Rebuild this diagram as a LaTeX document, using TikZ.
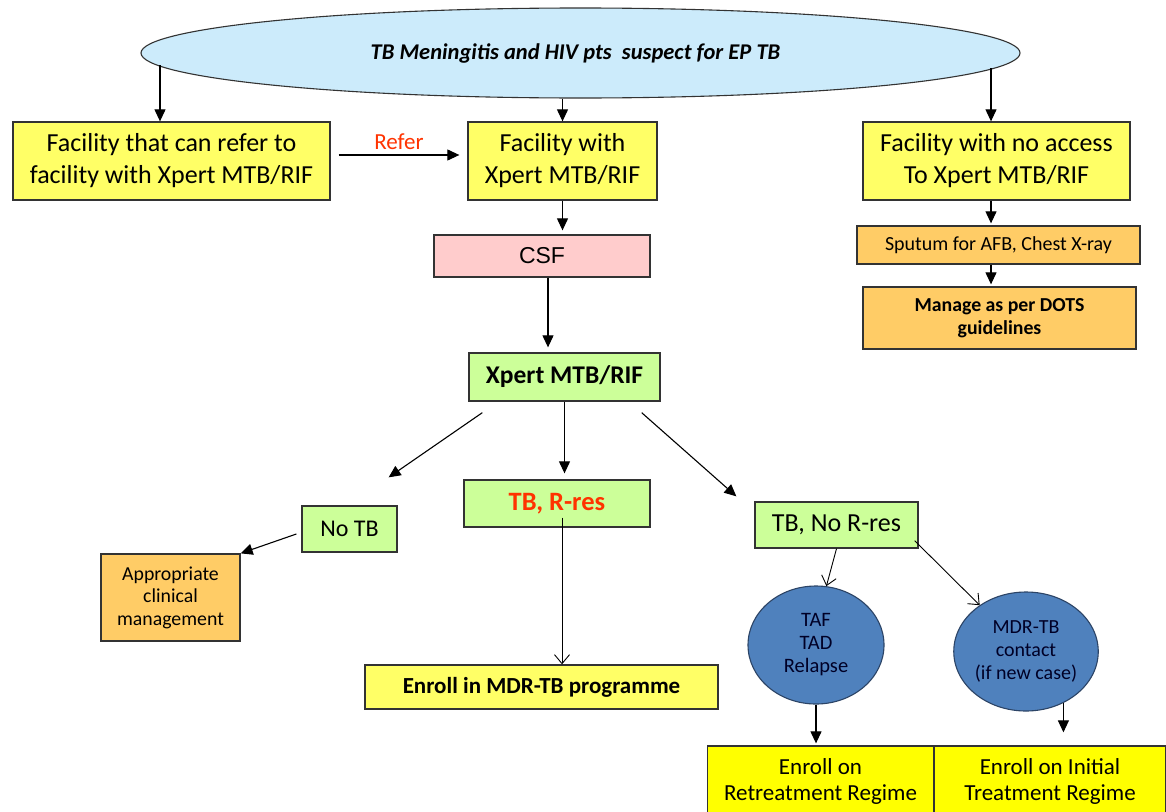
\documentclass[tikz,border=0pt]{standalone}
\usepackage{fontspec}
\setmainfont{Carlito}
\newfontfamily\arialf{Liberation Sans}
\usetikzlibrary{shapes.geometric,arrows.meta}
\definecolor{ylw}{HTML}{FFFF66}
\definecolor{ylwb}{HTML}{FFFF00}
\definecolor{lblue}{HTML}{CCEBFB}
\definecolor{pinkc}{HTML}{FFCCCC}
\definecolor{grn}{HTML}{CCFF99}
\definecolor{org}{HTML}{FFCC66}
\definecolor{cblue}{HTML}{4F81BD}
\definecolor{cbdr}{HTML}{2C4466}
\definecolor{bdr}{HTML}{333333}
\definecolor{redt}{HTML}{FF3300}
\begin{document}
\begin{tikzpicture}[x=1pt,y=-1pt,
  box/.style={draw=bdr,line width=1.3pt,align=center,inner sep=0pt},
  ell/.style={ellipse,draw=bdr,line width=1.1pt,align=center,inner sep=0pt},
  arr/.style={-{Triangle[length=12pt,width=11pt]},line width=1.1pt},
  oarr/.style={-{Straight Barb[length=9pt,width=15pt]},line width=0.9pt},
  big/.style={font={\fontsize{26}{32}\selectfont}}]
\useasboundingbox (0,0) rectangle (1166,811);
\fill[white] (0,0) rectangle (1166,811);

% top ellipse
\node[ell,fill=lblue,minimum width=879pt,minimum height=90pt,font={\fontsize{22.5}{26}\selectfont\bfseries\itshape}] (e) at (580.5,53) {TB Meningitis and HIV pts\ \ suspect for EP TB\hspace*{10pt}};

% first row
\node[box,big,fill=ylw,minimum width=317pt,minimum height=78pt] (A) at (171.5,161) {Facility that can refer to\\facility with Xpert MTB/RIF};
\node[box,big,fill=ylw,minimum width=189pt,minimum height=78pt] (B) at (562.5,161) {Facility with\\Xpert MTB/RIF};
\node[box,big,fill=ylw,minimum width=267pt,minimum height=78pt] (C) at (996.5,161) {Facility with no access\\To Xpert MTB/RIF};

% middle column
\node[box,fill=pinkc,minimum width=216pt,minimum height=42pt,font={\arialf\fontsize{23}{27}\selectfont}] (CSF) at (542,256) {CSF};
\node[box,fill=grn,minimum width=191pt,minimum height=48pt,font={\fontsize{25.5}{30}\selectfont\bfseries}] (X) at (564.5,377) {Xpert MTB/RIF};

% right column
\node[box,fill=org,minimum width=283pt,minimum height=38pt,font={\fontsize{20}{24}\selectfont}] (Sp) at (998.5,245) {Sputum for AFB, Chest X-ray};
\node[box,fill=org,minimum width=273pt,minimum height=62pt,font={\fontsize{19.8}{23.5}\selectfont\bfseries}] (Mg) at (999.5,318) {Manage as per DOTS\\guidelines};

% results
\node[box,fill=grn,minimum width=186pt,minimum height=47pt,font={\fontsize{26.5}{30}\selectfont\bfseries},text=redt] (TBR) at (557,503.5) {TB, R-res};
\node[box,fill=grn,minimum width=95pt,minimum height=46pt,font={\fontsize{24}{28}\selectfont}] (NoTB) at (349.5,529) {No TB};
\node[box,fill=org,minimum width=139pt,minimum height=87pt,font={\fontsize{19.8}{22.5}\selectfont}] (Ap) at (170.5,597.5) {Appropriate\\clinical\\management};
\node[box,fill=ylw,minimum width=353pt,minimum height=44pt,font={\fontsize{23}{27}\selectfont\bfseries}] (En) at (541.5,687) {Enroll in MDR-TB programme};
\node[box,big,fill=grn,minimum width=163pt,minimum height=46pt] (TBN) at (836.5,525) {TB, No R-res};

% circles
\node[ell,draw=cbdr,fill=cblue,minimum width=136pt,minimum height=118pt,font={\fontsize{20.5}{23}\selectfont},text=black!85!blue] (C1) at (816,645) {TAF\\TAD\\Relapse};
\node[ell,draw=cbdr,fill=cblue,minimum width=127pt,minimum height=119pt,font={\fontsize{20}{23}\selectfont},text=black!85!blue] (C2) at (1026,651.5) {MDR-TB\\contact\\(if new case)};

% bottom boxes
\node[box,fill=ylwb,minimum width=226pt,minimum height=70pt,font={\fontsize{23}{26}\selectfont}] (Ret) at (820.5,781) {Enroll on\\Retreatment Regime};
\node[box,fill=ylwb,minimum width=232pt,minimum height=70pt,font={\fontsize{23}{26}\selectfont}] (Ini) at (1050,781) {Enroll on Initial\\Treatment Regime};

% connectors
\draw[arr] ([shift={(-11.5,-56)}]A.north) -- ([xshift=-11.5pt]A.north);
\draw[arr] (B.north |- e.south) -- (B.north);
\draw[arr] ([shift={(-5.5,-53)}]C.north) -- ([xshift=-5.5pt]C.north);
\draw[arr] ([shift={(8,-6)}]A.east) -- node[above=1pt,text=redt,font={\fontsize{23}{26}\selectfont}] (refer) {Refer} ([shift={(-8,-6)}]B.west);
\draw[arr,shorten >=4pt] (B.south) -- (B.south |- CSF.north);
\draw[arr,shorten >=5pt] ([xshift=6pt]CSF.south) -- ([xshift=6pt]CSF.south |- X.north);
\draw[arr,shorten >=2pt] ([xshift=-5.5pt]C.south) -- ([xshift=-5.5pt]C.south |- Sp.north);
\draw[arr,shorten >=2pt] ([xshift=-7.5pt]Sp.south) -- ([xshift=-7.5pt]Sp.south |- Mg.north);
\draw[arr] ([shift={(14,11)}]X.south west) -- ([shift={(-9,-28)}]NoTB.north east);
\draw[arr,shorten >=6pt] (X.south) -- (X.south |- TBR.north);
\draw[arr] ([shift={(-19,11)}]X.south east) -- ([shift={(-18,-5)}]TBN.north west);
\draw[arr] ([shift={(-5,5)}]NoTB.west) -- (Ap.north east);
\draw[oarr] ([shift={(5,-10)}]TBR.south) -- ([xshift=5pt]TBR.south |- En.north);
\draw[oarr] (TBN.south) -- (C1.80);
\draw[oarr] ([shift={(-4,-8)}]TBN.south east) -- (C2.135);
\draw[arr,shorten >=2pt] (C1.south) -- (C1.south |- Ret.north);
\draw[arr,shorten >=13pt] (C2.306) -- (C2.306 |- Ini.north);
\end{tikzpicture}
\end{document}
